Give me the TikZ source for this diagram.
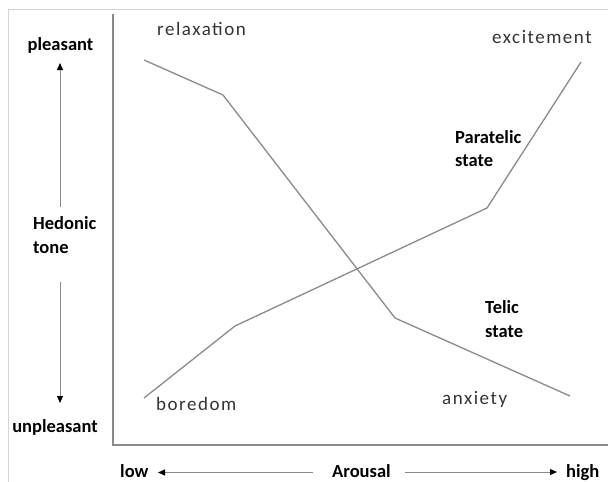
\documentclass[tikz,border=0pt]{standalone}
\usepackage{fontspec}
\setmainfont{Carlito}
\newfontfamily\spacedfont[LetterSpace=8]{Carlito}
\usetikzlibrary{arrows.meta}
\definecolor{linegray}{HTML}{8A8A8A}
\definecolor{framegray}{HTML}{D4D4D4}
\definecolor{labelgray}{HTML}{333333}
\tikzset{
  boldlabel/.style={font=\fontsize{18.5}{22}\selectfont\bfseries, text=black, inner sep=0pt, anchor=base west},
  curvelabel/.style={font=\spacedfont\fontsize{19}{22}\selectfont, text=labelgray, inner sep=0pt, anchor=base west},
  curve/.style={draw=linegray, line width=1.3pt, line join=miter},
  axisline/.style={draw=linegray, line width=1.3pt},
  dirarrow/.style={draw=linegray, line width=1pt, -{Triangle[length=7pt,width=6pt,color=black]}},
}
\begin{document}
\begin{tikzpicture}[x=1pt,y=-1pt]
\useasboundingbox (0,0) rectangle (608,482);
% outer frame
\draw[framegray, line width=0.9pt] (8,482) -- (8,9) -- (608,9);
% axes
\coordinate (ytop) at (113,14);
\coordinate (origin) at (113,445);
\coordinate (xend) at (608,445);
\draw[axisline] (ytop) -- (origin) -- (xend);
% curves
\coordinate (r1) at (144,60);
\coordinate (r2) at (223,95);
\coordinate (r3) at (395,318);
\coordinate (r4) at (570,396);
\coordinate (e1) at (144,398);
\coordinate (e2) at (235,326);
\coordinate (e3) at (487,208);
\coordinate (e4) at (581,62);
\draw[curve] (r1) -- (r2) -- (r3) -- (r4);
\draw[curve] (e1) -- (e2) -- (e3) -- (e4);
% curve labels
\node[curvelabel] (relax) at (157,35) {relaxation};
\node[curvelabel] (excite) at (492,43) {excitement};
\node[curvelabel] (bored) at (156,410) {boredom};
\node[curvelabel] (anx) at (442,404) {anxiety};
\node[boldlabel] (para1) at (455,143) {Paratelic};
\node[boldlabel] (para2) at (455,166) {state};
\node[boldlabel] (telic1) at (485,313) {Telic};
\node[boldlabel] (telic2) at (485,337) {state};
% vertical axis labels
\node[boldlabel, anchor=base] (pleasant) at (60.5,50) {pleasant};
\node[boldlabel, anchor=base] (unpleasant) at (55,432) {unpleasant};
\node[boldlabel] (hed1) at (33,229) {Hedonic};
\node[boldlabel] (hed2) at (33,253) {tone};
\coordinate (upstart) at (60,207);
\coordinate (uptip) at (60,63);
\coordinate (downstart) at (60,282);
\coordinate (downtip) at (60,403);
\draw[dirarrow] (upstart) -- (uptip);
\draw[dirarrow] (downstart) -- (downtip);
% horizontal axis labels
\node[boldlabel] (low) at (120,477) {low};
\node[boldlabel] (arousal) at (332,477) {Arousal};
\node[boldlabel] (high) at (566,477) {high};
\coordinate (leftstart) at (313,472.5);
\coordinate (lefttip) at (158,472.5);
\coordinate (rightstart) at (405,472);
\coordinate (righttip) at (557,472);
\draw[dirarrow] (leftstart) -- (lefttip);
\draw[dirarrow] (rightstart) -- (righttip);
\end{tikzpicture}
\end{document}
